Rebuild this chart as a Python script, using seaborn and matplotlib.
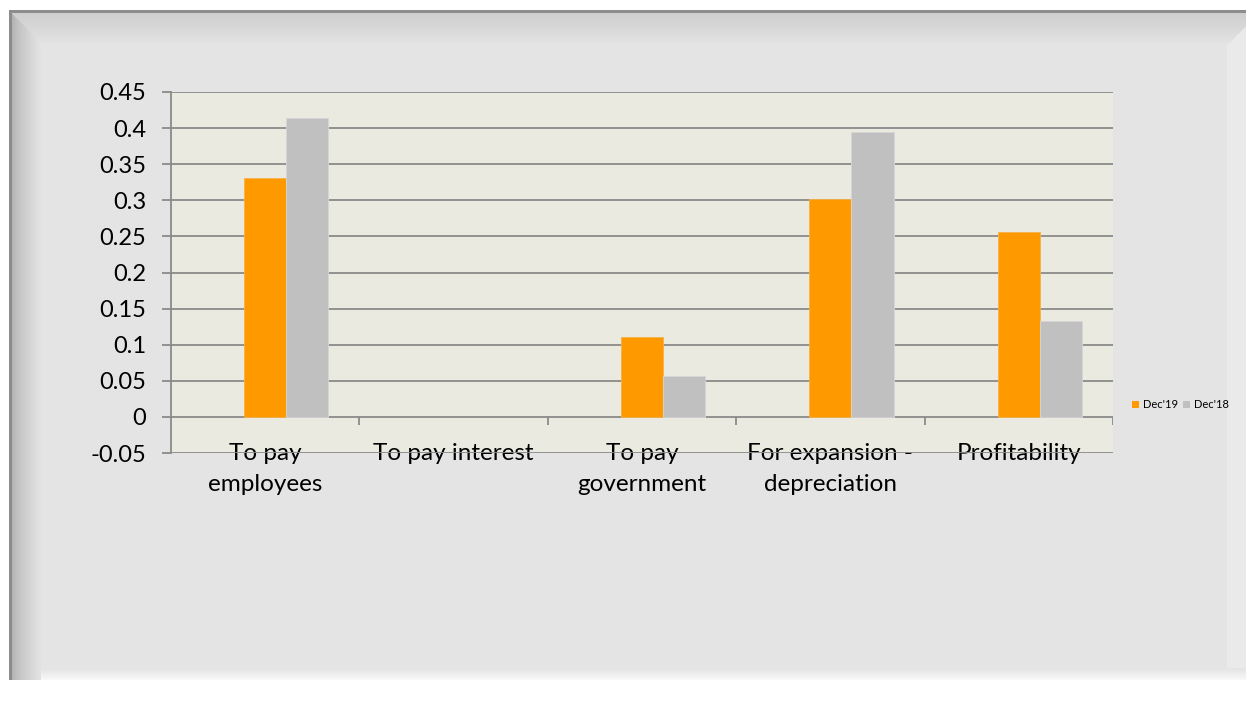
import numpy as np
import pandas as pd
import matplotlib
matplotlib.use("Agg")
import matplotlib.pyplot as plt
from matplotlib.patches import Patch
import seaborn as sns

# ---------------- data ----------------
categories = ["To pay\nemployees", "To pay interest", "To pay\ngovernment",
              "For expansion -\ndepreciation", "Profitability"]
series_names = ["", "Dec'19", "Dec'18"]          # first series is empty in the source chart
blank_values = [0, 0, 0, 0, 0]
dec19_values = [0.331, 0.0, 0.110, 0.302, 0.256]
dec18_values = [0.414, 0.0, 0.057, 0.394, 0.133]
ytick_values = [-0.05, 0.0, 0.05, 0.1, 0.15, 0.2, 0.25, 0.3, 0.35, 0.4, 0.45]
ytick_labels = ["-0.05", "0", "0.05", "0.1", "0.15", "0.2", "0.25", "0.3", "0.35", "0.4", "0.45"]

ORANGE = "#FF9900"
GRAY = "#C0C0C0"
GRID = "#8A8A8A"

plt.rcParams["font.family"] = ["Lato", "DejaVu Sans"]

rows = []
for name, vals in zip(series_names, [blank_values, dec19_values, dec18_values]):
    for c, v in zip(categories, vals):
        rows.append({"category": c, "series": name, "value": v})
df = pd.DataFrame(rows)

W, H = 1246, 701
fig = plt.figure(figsize=(W / 100, H / 100), dpi=100)
fig.patch.set_facecolor("white")

# ---------------- framed background (decoration) ----------------
img = np.full((H, W), 255.0)
x0, y0, x1, y1 = 9, 10, W, 680
base = 228.0
img[y0:y1, x0:x1] = base
yy, xx = np.mgrid[0:H, 0:W]
# top bevel
tb = (yy >= y0 + 3) & (yy < y0 + 34) & (xx >= x0) & (yy - y0 <= (xx - x0) + 3)
t = (yy - (y0 + 3)) / 31.0
img[tb] = (206 + (base - 206) * t)[tb]
# left bevel
lb = (xx >= x0 + 3) & (xx < x0 + 32) & (yy >= y0 + 3) & (yy < y1) & ((xx - x0) < (yy - y0))
s = (xx - (x0 + 3)) / 29.0
img[lb] = (178 + (base - 178) * np.clip(s, 0, 1) ** 0.7)[lb]
# right light strip (with diagonal corner)
rb = (xx >= 1227) & (yy < y1) & ((yy - y0) > 34 - (xx - 1227))
img[rb] = 234
# bottom light strip
bb = (yy >= 668) & (yy < y1) & (xx >= x0 + 32)
u = (yy - 668) / 12.0
img[bb] = (base + (250 - base) * u)[bb]
# dark border lines
img[y0:y0 + 3, x0:x1] = 140
img[y0:y1, x0:x0 + 3] = 140
img[y1:, :] = 255
bg = fig.add_axes([0, 0, 1, 1], zorder=-5)
bg.imshow(np.dstack([img, img, img]).astype(np.uint8), aspect="auto", interpolation="bilinear")
bg.axis("off")

# ---------------- main chart ----------------
left, right, top, bottom = 171, 1113, 92, 453
ax = fig.add_axes([left / W, 1 - bottom / H, (right - left) / W, (bottom - top) / H])
ax.set_facecolor("#EBEAE1")

sns.barplot(data=df, x="category", y="value", hue="series", order=categories,
            hue_order=series_names, palette={"": "#FFFFFF", "Dec'19": ORANGE, "Dec'18": GRAY},
            width=0.67, gap=0, saturation=1, legend=False, ax=ax, zorder=3)

for i, cont in enumerate(ax.containers):
    for p in cont.patches:
        if i == 0:
            p.set_visible(False)
            continue
        if p.get_height() == 0:
            p.set_linewidth(0)
        else:
            p.set_edgecolor("#F5B14A" if i == 1 else "#D6D6D6")
            p.set_linewidth(0.6)

ax.set_ylim(-0.05, 0.45)
ax.set_xlim(-0.5, len(categories) - 0.5)
ax.set_yticks(ytick_values)
ax.set_yticklabels(ytick_labels)
ax.yaxis.grid(True, color=GRID, linewidth=1.3)
ax.xaxis.grid(False)
ax.set_axisbelow(True)
for sp in ["top", "right", "bottom"]:
    ax.spines[sp].set_visible(False)
ax.spines["left"].set_color(GRID)
ax.spines["left"].set_linewidth(1.3)
ax.tick_params(axis="y", length=6.5, width=1.3, color=GRID, pad=11.5, labelsize=17, labelcolor="black")
ax.tick_params(axis="x", length=0, pad=-7.5, labelsize=17.5, labelcolor="black")
for lab in ax.get_xticklabels():
    lab.set_linespacing(1.62)
    lab.set_verticalalignment("top")
ax.set_xlabel("")
ax.set_ylabel("")

# category boundary tick marks at the zero line
ax.vlines([i + 0.5 for i in range(len(categories))], -0.011, 0, color=GRID, linewidth=1.3, zorder=2)

# legend
handles = [Patch(facecolor=ORANGE, edgecolor="none"), Patch(facecolor=GRAY, edgecolor="none")]
fig.legend(handles, series_names[1:], loc="center left", bbox_to_anchor=(1132 / W, 1 - 405 / H),
           ncol=2, frameon=False, fontsize=8, handlelength=0.6, handleheight=0.6,
           handletextpad=0.35, columnspacing=0.5, borderpad=0, borderaxespad=0)

fig.savefig("out.png", dpi=100, facecolor="white")
